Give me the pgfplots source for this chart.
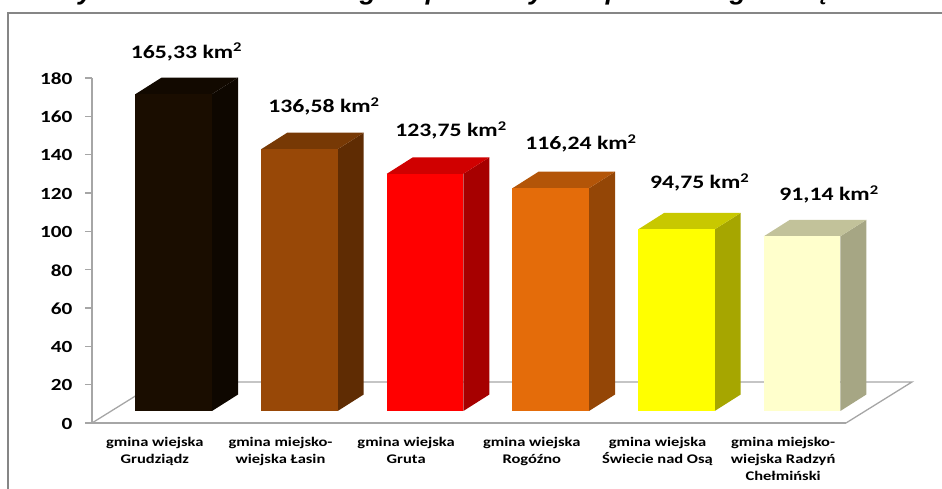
\documentclass[border=0pt]{standalone}
\usepackage{pgfplots}
\pgfplotsset{compat=1.18}
\usepackage{fontspec}
\setmainfont[FakeStretch=1.25]{Carlito}
\newfontfamily\titlefont{Liberation Sans}
\definecolor{axisgray}{HTML}{A6A6A6}
\definecolor{framegray}{HTML}{868686}
\definecolor{fa}{HTML}{1A0D00}\definecolor{sa}{HTML}{0E0700}\definecolor{ta}{HTML}{120900}
\definecolor{fb}{HTML}{984807}\definecolor{sb}{HTML}{5F2C03}\definecolor{tb}{HTML}{773905}
\definecolor{fc}{HTML}{FF0000}\definecolor{sc}{HTML}{A60000}\definecolor{tc}{HTML}{D00000}
\definecolor{fd}{HTML}{E46C0A}\definecolor{sd}{HTML}{944606}\definecolor{td}{HTML}{B35508}
\definecolor{fe}{HTML}{FFFF00}\definecolor{se}{HTML}{A6A600}\definecolor{te}{HTML}{C8C800}
\definecolor{ff}{HTML}{FFFFCC}\definecolor{sf}{HTML}{A6A684}\definecolor{tf}{HTML}{C2C29A}
% one bar: {position}{value}{front}{side}{top}
\newcommand{\cube}[5]{%
  \pgfmathsetmacro{\xl}{#1+0.346}\pgfmathsetmacro{\xr}{#1+0.955}%
  \pgfmathsetmacro{\xlb}{#1+0.553}\pgfmathsetmacro{\xrb}{#1+1.162}%
  \pgfmathsetmacro{\yt}{#2+6.26}\pgfmathsetmacro{\ytb}{#2+14.86}%
  \edef\temp{%
    \noexpand\addplot[fill=#4,draw=none] coordinates {(\xr,6.26)(\xrb,14.86)(\xrb,\ytb)(\xr,\yt)} --cycle;
    \noexpand\addplot[fill=#5,draw=none] coordinates {(\xl,\yt)(\xlb,\ytb)(\xrb,\ytb)(\xr,\yt)} --cycle;
    \noexpand\addplot[fill=#3,draw=none] coordinates {(\xl,6.26)(\xr,6.26)(\xr,\yt)(\xl,\yt)} --cycle;
  }\temp}
\begin{document}
\begin{tikzpicture}[x=1pt,y=1pt]
\useasboundingbox (0,0) rectangle (942,489);
\draw[framegray,line width=1.8pt] (8,-5) -- (8,476) -- (950,476);
\foreach \x/\c in {86/y,368/g,434/p,537/y,614/p,738/g,822/ę}
  \node[anchor=base,inner sep=0,font=\titlefont\fontsize{27}{27}\selectfont\bfseries\itshape] at (\x,489) {\c};
\begin{axis}[
  at={(92pt,66pt)},anchor=origin,
  scale only axis,width=754pt,height=345pt,
  xmin=0,xmax=6,ymin=0,ymax=180,
  clip=false,
  axis y line=left,axis x line=bottom,
  axis line style={axisgray,line width=1.5pt,-},
  ytick={0,20,...,180},
  xtick={0.5,1.5,2.5,3.5,4.5,5.5},
  xticklabels={{gmina wiejska\\Grudziądz},{gmina miejsko-\\wiejska Łasin},{gmina wiejska\\Gruta},{gmina wiejska\\Rogóźno},{gmina wiejska\\Świecie nad Osą},{gmina miejsko-\\wiejska Radzyń\\Chełmiński}},
  extra x ticks={0,1,2,3,4,5,6},
  extra x tick labels={},
  extra x tick style={major tick length=5pt,tick style={axisgray,line width=1.2pt},tick align=outside},
  x tick style={draw=none},
  y tick style={axisgray,line width=1.2pt},
  major tick length=7pt,
  tick align=outside,
  /pgf/number format/assume math mode=true,
  y tick label style={font=\fontsize{17}{17}\selectfont\bfseries,xshift=-9pt,yshift=-0.7pt},
  x tick label style={font=\fontsize{13.2}{16.7}\selectfont\bfseries,align=center,anchor=north,yshift=-4pt},
]
\addplot[axisgray,line width=1.3pt] coordinates {(0,0)(0.525,21.4)(6.525,21.4)(6,0)};
\cube{0}{165.33}{fa}{sa}{ta}
\cube{1}{136.58}{fb}{sb}{tb}
\cube{2}{123.75}{fc}{sc}{tc}
\cube{3}{116.24}{fd}{sd}{td}
\cube{4}{94.75}{fe}{se}{te}
\cube{5}{91.14}{ff}{sf}{tf}
\node[font=\fontsize{19}{19}\selectfont\bfseries] at (axis cs:0.752,193.6) {165,33 km\textsuperscript{2}};
\node[font=\fontsize{19}{19}\selectfont\bfseries] at (axis cs:1.846,165) {136,58 km\textsuperscript{2}};
\node[font=\fontsize{19}{19}\selectfont\bfseries] at (axis cs:2.857,152.5) {123,75 km\textsuperscript{2}};
\node[font=\fontsize{19}{19}\selectfont\bfseries] at (axis cs:3.891,145.7) {116,24 km\textsuperscript{2}};
\node[font=\fontsize{19}{19}\selectfont\bfseries] at (axis cs:4.836,125.4) {94,75 km\textsuperscript{2}};
\node[font=\fontsize{19}{19}\selectfont\bfseries] at (axis cs:5.865,119.2) {91,14 km\textsuperscript{2}};
\end{axis}
\end{tikzpicture}
\end{document}
